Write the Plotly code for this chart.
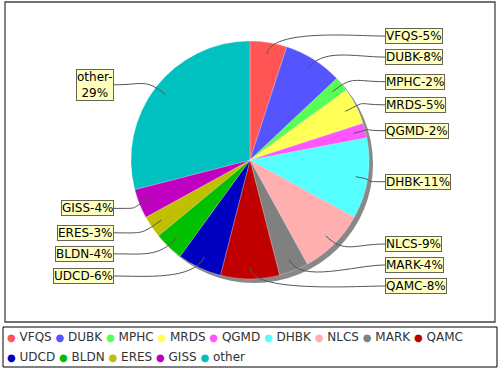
import math
import plotly.graph_objects as go

# ---- data ----
categories = ["VFQS", "DUBK", "MPHC", "MRDS", "QGMD", "DHBK", "NLCS",
              "MARK", "QAMC", "UDCD", "BLDN", "ERES", "GISS", "other"]
shares = [5, 8, 2, 5, 2, 11, 9, 4, 8, 6, 4, 3, 4, 29]

# ---- styles ----
COLORS = ["#FF5555", "#5555FF", "#55FF55", "#FFFF55", "#FF55FF", "#55FFFF",
          "#FFAFAF", "#808080", "#C00000", "#0000C0", "#00C000", "#C0C000",
          "#C000C0", "#00C0C0"]
FONT = "DejaVu Sans"
W, H = 500, 370
CX, CY, R = 250.0, 160.0, 119.0
SHADOW = 4.0
LABEL_R = 126.0
LABEL_DY = 2.0
GAP = 21.0
RIGHT_X = CX + 135
LEFT_X = CX - 136


def px(x):
    return x / W


def py(y):
    return 1 - y / H


fig = go.Figure()

# shadow
fig.add_trace(go.Pie(
    values=[1], marker=dict(colors=["#888888"], line=dict(width=0)),
    domain=dict(x=[px(CX - R + SHADOW), px(CX + R + SHADOW)],
                y=[py(CY + R + SHADOW), py(CY - R + SHADOW)]),
    textinfo="none", hoverinfo="skip", showlegend=False, sort=False))

fig.add_trace(go.Pie(
    labels=categories, values=shares, sort=False, direction="clockwise",
    rotation=0,
    marker=dict(colors=COLORS, line=dict(width=0.5, color="rgba(255,255,255,0.5)")),
    domain=dict(x=[px(CX - R), px(CX + R)], y=[py(CY + R), py(CY - R)]),
    textinfo="none", hoverinfo="label+percent", showlegend=False))

# ---- labels with leader lines ----
total = float(sum(shares))
items = []
cum = 0.0
for name, v in zip(categories, shares):
    mid = (cum + v / 2) / total * 2 * math.pi
    cum += v
    pct = round(v / total * 100)
    text = f"{name}-{pct}%"
    deg = math.degrees(mid)
    side = "right" if deg <= 180.0001 else "left"
    if side == "left" and name == "other":
        text = f"{name}-<br>{pct}%"
    items.append(dict(text=text, angle=mid, side=side,
                      ny=CY + LABEL_DY - LABEL_R * math.cos(mid)))


def spread(ys, gap, lo, hi):
    blocks = []  # [start, count, sum]
    for y in ys:
        blocks.append([y, 1, y])
        while len(blocks) >= 2 and blocks[-1][0] < blocks[-2][0] + blocks[-2][1] * gap:
            b = blocks.pop()
            a = blocks.pop()
            cnt = a[1] + b[1]
            s = a[2] + b[2]
            blocks.append([s / cnt - (cnt - 1) * gap / 2, cnt, s])
    out = []
    for st, cnt, _ in blocks:
        out += [st + i * gap for i in range(cnt)]
    n = len(out)
    if n:
        out[-1] = min(out[-1], hi)
        for i in range(n - 2, -1, -1):
            out[i] = min(out[i], out[i + 1] - gap)
        out[0] = max(out[0], lo)
        for i in range(1, n):
            out[i] = max(out[i], out[i - 1] + gap)
    return out


for side in ("right", "left"):
    group = sorted([it for it in items if it["side"] == side], key=lambda d: d["ny"])
    ys = spread([g["ny"] for g in group], GAP,
                CY + LABEL_DY - LABEL_R, CY + LABEL_DY - 2 + LABEL_R)
    for g, y in zip(group, ys):
        g["y"] = y

annotations = []
shapes = []
for it in items:
    a = it["angle"]
    sx, sy = math.sin(a), -math.cos(a)
    ax, ay = CX + 0.9 * R * sx, CY + 0.9 * R * sy
    c1x, c1y = CX + 1.12 * R * sx, CY + 1.12 * R * sy
    if it["side"] == "right":
        ex = RIGHT_X
        c2x = ex - 30
        anchor = "left"
    else:
        ex = LEFT_X
        c2x = ex + 30
        anchor = "right"
    ey = it["y"]
    path = (f"M {px(ax)},{py(ay)} C {px(c1x)},{py(c1y)} "
            f"{px(c2x)},{py(ey)} {px(ex)},{py(ey)}")
    shapes.append(dict(type="path", path=path, xref="paper", yref="paper",
                       line=dict(color="#555555", width=1)))
    annotations.append(dict(
        x=px(ex), y=py(ey), xref="paper", yref="paper", text=it["text"],
        showarrow=False, xanchor=anchor, yanchor="middle", align="center",
        font=dict(family=FONT, size=12, color="black"),
        bgcolor="#FFFFC0", bordercolor="#666655", borderwidth=1, borderpad=0))

# ---- frames ----
shapes.insert(0, dict(type="rect", xref="paper", yref="paper",
                      x0=px(5), x1=px(495), y0=py(322), y1=py(2),
                      line=dict(color="#444444", width=1.3), layer="below"))
shapes.append(dict(type="rect", xref="paper", yref="paper",
                   x0=px(3), x1=px(497), y0=py(367), y1=py(327),
                   line=dict(color="black", width=1)))

# ---- legend (manual) ----
def legend_row(idx):
    parts = []
    for i in idx:
        parts.append(f'<span style="color:{COLORS[i]};font-size:10px">●</span>'
                     f' {categories[i]}')
    return " ".join(parts)


rows = [list(range(0, 9)), list(range(9, len(categories)))]
for r_i, idx in enumerate(rows):
    annotations.append(dict(
        x=px(5), y=py(337 + 20 * r_i), xref="paper", yref="paper",
        text=legend_row(idx), showarrow=False, xanchor="left", yanchor="middle",
        align="left", font=dict(family=FONT, size=12, color="#333333")))

fig.update_layout(
    width=W, height=H, margin=dict(l=0, r=0, t=0, b=0),
    paper_bgcolor="white", plot_bgcolor="white",
    annotations=annotations, shapes=shapes, showlegend=False,
    font=dict(family=FONT))

fig.write_html("out.html", config={"displayModeBar": False},
               post_script="document.body.style.margin='0';"
                           "document.body.style.overflow='hidden';")
